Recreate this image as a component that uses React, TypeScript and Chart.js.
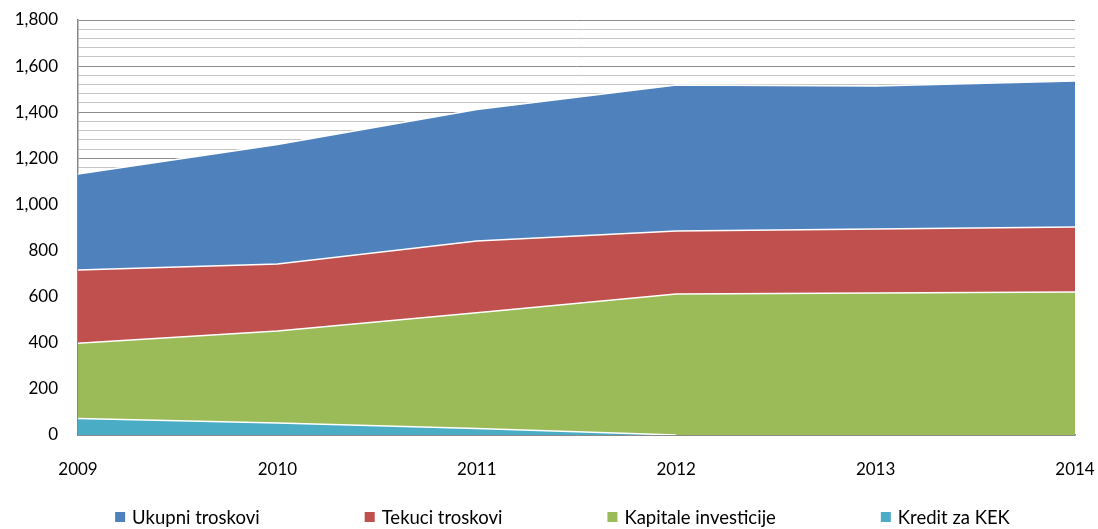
import React, { useEffect, useRef } from "react";
import { Chart, registerables } from "chart.js";

Chart.register(...registerables);

const years = ["2009", "2010", "2011", "2012", "2013", "2014"];
const ukupniTroskovi = [1132, 1260, 1412, 1518, 1514, 1535];
const tekuciTroskovi = [716, 742, 841, 885, 893, 902];
const kapitaleInvesticije = [398, 451, 530, 612, 616, 620];
const kreditZaKEK = [72, 52, 28, 0, null, null];

const seriesLabels = ["Ukupni troskovi", "Tekuci troskovi", "Kapitale investicije", "Kredit za KEK"];
const seriesColors = ["#4F81BD", "#C0504D", "#9BBB59", "#4BACC6"];

const FONT = "Lato, 'Liberation Sans', sans-serif";

const legendPlugin = {
  id: "bottomLegend",
  afterDraw(chart: any) {
    const ctx = chart.ctx;
    ctx.save();
    ctx.font = `18.5px ${FONT}`;
    ctx.textBaseline = "middle";
    ctx.textAlign = "left";
    const box = 10;
    const gapText = 7;
    const gapItem = 105;
    const items = chart.data.datasets.map((d: any) => ({
      label: d.label,
      color: d.backgroundColor,
      w: box + gapText + ctx.measureText(d.label).width,
    }));
    const total = items.reduce((s: number, it: any) => s + it.w, 0) + gapItem * (items.length - 1);
    let x = 562.5 - total / 2;
    const y = 517;
    items.forEach((it: any) => {
      ctx.fillStyle = it.color;
      ctx.fillRect(x, y - box / 2, box, box);
      ctx.fillStyle = "#000";
      ctx.fillText(it.label, x + box + gapText, y + 1);
      x += it.w + gapItem;
    });
    ctx.restore();
  },
};

export default function App() {
  const ref = useRef<HTMLCanvasElement | null>(null);

  useEffect(() => {
    if (!ref.current) return;
    const data = [ukupniTroskovi, tekuciTroskovi, kapitaleInvesticije, kreditZaKEK];
    const chart = new Chart(ref.current, {
      type: "line",
      data: {
        labels: years,
        datasets: data.map((vals, i) => ({
          label: seriesLabels[i],
          data: vals,
          backgroundColor: seriesColors[i],
          borderColor: "#ffffff",
          borderWidth: 1.5,
          fill: "origin",
          pointRadius: 0,
          tension: 0,
          order: data.length - i,
        })),
      },
      options: {
        animation: false,
        responsive: false,
        layout: { padding: { top: 20, right: 23, bottom: 44, left: 0 } },
        plugins: {
          legend: { display: false },
          tooltip: { enabled: false },
        },
        scales: {
          x: {
            offset: false,
            grid: {
              display: true,
              drawOnChartArea: false,
              drawTicks: true,
              tickLength: 24,
              color: "rgba(0,0,0,0)",
              tickColor: "rgba(0,0,0,0)",
            },
            border: { display: true, color: "#868686", width: 1.5 },
            ticks: {
              color: "#000",
              font: { family: FONT, size: 17 },
              padding: 0,
              maxRotation: 0,
              autoSkip: false,
            },
            afterFit: (scale: any) => {
              scale.height = 50;
            },
          },
          y: {
            min: 0,
            max: 1800,
            grid: {
              drawTicks: true,
              tickLength: 20,
              tickColor: "rgba(0,0,0,0)",
              color: (c: any) => (c.tick && c.tick.value % 200 === 0 ? "#8c8c8c" : "#c4c4c4"),
              lineWidth: 1,
            },
            border: { display: true, color: "#868686", width: 1.5 },
            ticks: {
              stepSize: 40,
              autoSkip: false,
              color: "#000",
              font: { family: FONT, size: 17 },
              padding: 0,
              callback: (v: any) => (Number(v) % 200 === 0 ? Number(v).toLocaleString("en-US") : ""),
            },
            afterFit: (scale: any) => {
              scale.width = 78;
            },
          },
        },
      },
      plugins: [legendPlugin],
    });
    return () => chart.destroy();
  }, []);

  return (
    <div style={{ position: "fixed", left: 0, top: 0, width: 1098, height: 529, background: "#fff" }}>
      <canvas ref={ref} width={1098} height={529} style={{ display: "block" }} />
    </div>
  );
}
